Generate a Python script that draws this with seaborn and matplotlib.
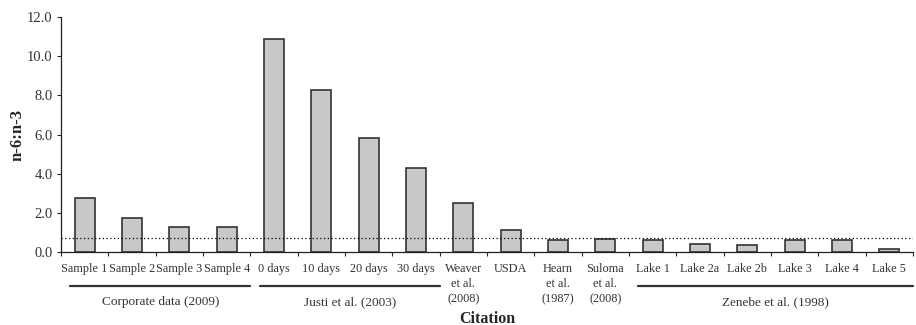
import numpy as np
import pandas as pd
import seaborn as sns
import matplotlib.pyplot as plt
import matplotlib.transforms as mtransforms

categories = ["Sample 1", "Sample 2", "Sample 3", "Sample 4",
              "0 days", "10 days", "20 days", "30 days",
              "Weaver\net al.\n(2008)", "USDA", "Hearn\net al.\n(1987)", "Suloma\net al.\n(2008)",
              "Lake 1", "Lake 2a", "Lake 2b", "Lake 3", "Lake 4", "Lake 5"]
ratios = [2.76, 1.75, 1.29, 1.29,
          10.87, 8.27, 5.82, 4.30,
          2.52, 1.11, 0.61, 0.66,
          0.61, 0.39, 0.34, 0.61, 0.61, 0.14]
groups = ["Corporate data (2009)", "Justi et al. (2003)", "Zenebe et al. (1998)"]
group_first = [0, 4, 12]
group_last = [3, 7, 17]
reference_ratio = 0.70

sns.set_style("ticks")
plt.rcParams["font.family"] = ["Liberation Serif", "DejaVu Serif"]

df = pd.DataFrame({"citation": categories, "ratio": ratios})

fig = plt.figure(figsize=(9.16, 3.25), dpi=100)
ax = fig.add_axes([0.0666, 0.2246, 0.93, 0.7231])
sns.barplot(data=df, x="citation", y="ratio", color="#c8c8c8", saturation=1,
            edgecolor="#333333", linewidth=1.2, width=0.42, ax=ax)

ax.set_xlim(-0.5, len(categories) - 0.5)
ax.set_ylim(0, 12)
ax.set_yticks(np.arange(0, 12.1, 2))
ax.set_yticklabels([f"{v:.1f}" for v in np.arange(0, 12.1, 2)], fontsize=10.5, color="#333333")
ax.tick_params(axis="y", length=3, width=0.8, pad=3)

ax.set_xticks(np.arange(len(categories)))
ax.set_xticklabels(categories, fontsize=8.8, color="#333333", linespacing=1.35)
ax.tick_params(axis="x", which="major", length=0, pad=8)
ax.set_xticks(np.arange(len(categories) + 1) - 0.5, minor=True)
ax.tick_params(axis="x", which="minor", length=3, width=0.8)

sns.despine(ax=ax)
for s in ["left", "bottom"]:
    ax.spines[s].set_linewidth(0.9)
    ax.spines[s].set_color("#222222")

ax.axhline(reference_ratio, color="black", linestyle=(0, (1, 2)), linewidth=0.9)

trans = mtransforms.blended_transform_factory(ax.transData, ax.transAxes)
for name, a, b in zip(groups, group_first, group_last):
    ax.plot([a - 0.3, b + 0.5], [-0.145, -0.145], transform=trans, color="#333333",
            linewidth=1.6, clip_on=False)
    ax.text((a + b) / 2 + 0.1, -0.213, name, transform=trans, ha="center", va="center",
            fontsize=9.5, color="#333333")

ax.set_xlabel("Citation", fontsize=11.5, fontweight="bold")
ax.xaxis.set_label_coords(0.5, -0.283)
ax.xaxis.label.set_va("center")
ax.set_ylabel("n-6:n-3", fontsize=12, fontweight="bold", labelpad=1)

fig.savefig("out.png", dpi=100)
